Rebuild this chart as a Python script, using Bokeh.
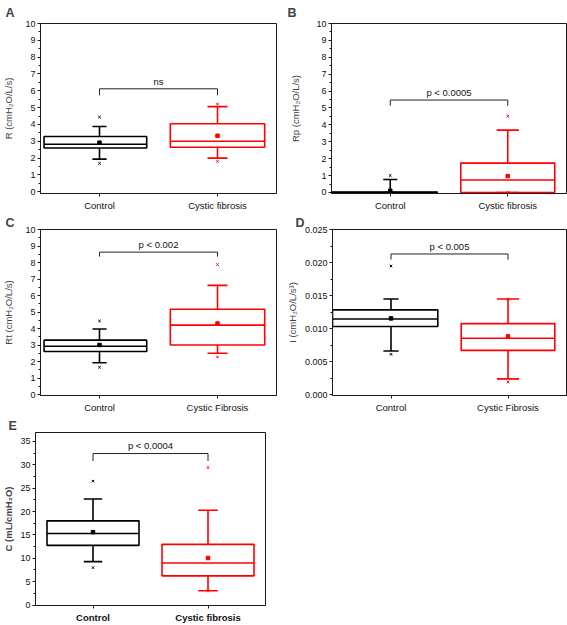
from bokeh.plotting import figure
from bokeh.layouts import column, row
from bokeh.models import FixedTicker, NumeralTickFormatter, Range1d
from bokeh.embed import file_html
from bokeh.resources import INLINE
from bokeh.core.properties import value

FONT = "Liberation Sans"
COLORS = ["#000000", "#ff0000"]

# ---------------- data ----------------
groups_ab = ["Control", "Cystic fibrosis"]
groups_cd = ["Control", "Cystic Fibrosis"]
groups_e = ["Control", "Cystic fibrosis"]

# A: R (cmH2O/L/s)
R_q1 = [2.60, 2.65]
R_median = [2.83, 3.00]
R_q3 = [3.29, 4.04]
R_wlo = [1.94, 2.00]
R_whi = [3.88, 5.06]
R_mean = [2.92, 3.33]
R_min = [1.69, 1.81]
R_max = [4.44, 5.21]
R_bracket = [5.73, 6.12]
R_text = "ns"

# B: Rp (cmH2O/L/s)
Rp_q1 = [0.00, 0.00]
Rp_median = [0.00, 0.74]
Rp_q3 = [0.03, 1.74]
Rp_wlo = [0.00, 0.00]
Rp_whi = [0.77, 3.69]
Rp_mean = [0.10, 0.97]
Rp_min = [0.00, 0.00]
Rp_max = [1.00, 4.51]
Rp_bracket = [5.13, 5.47]
Rp_text = "p < 0.0005"

# C: Rt (cmH2O/L/s)
Rt_q1 = [2.61, 3.01]
Rt_median = [2.93, 4.21]
Rt_q3 = [3.30, 5.17]
Rt_wlo = [1.93, 2.51]
Rt_whi = [3.98, 6.62]
Rt_mean = [3.01, 4.31]
Rt_min = [1.66, 2.28]
Rt_max = [4.46, 7.88]
Rt_bracket = [8.36, 8.63]
Rt_text = "p < 0.002"

# D: I (cmH2O/L/s^2)
I_q1 = [0.01033, 0.00672]
I_median = [0.01146, 0.00855]
I_q3 = [0.01285, 0.01077]
I_wlo = [0.00662, 0.00242]
I_whi = [0.01448, 0.01448]
I_mean = [0.01156, 0.00884]
I_min = [0.00613, 0.00193]
I_max = [0.01947, 0.01448]
I_bracket = [0.02045, 0.0213]
I_text = "p < 0.005"

# E: C (mL/cmH2O)
C_q1 = [12.76, 6.24]
C_median = [15.31, 9.00]
C_q3 = [18.00, 12.97]
C_wlo = [9.28, 3.05]
C_whi = [22.68, 20.27]
C_mean = [15.59, 10.06]
C_min = [8.00, 3.05]
C_max = [26.50, 29.40]
C_bracket = [30.8, 32.4]
C_text = "p < 0.0004"


def panel(letter, ylabel, xlabels, q1, med, q3, wlo, whi, mean, mn, mx,
          bracket, ptext, yr, yticks, yminor, fmt,
          w, h, bl, br, bt, bb, box_l, box_r, caps,
          bold=False, ylab_standoff=4, letter_x=5, letter_standoff=0,
          letter_lh=1.0):
    p = figure(width=w, height=h, x_range=Range1d(0.5, 2.5), y_range=Range1d(*yr),
               output_backend="svg", toolbar_location=None,
               min_border_left=bl, min_border_right=br,
               min_border_top=bt, min_border_bottom=bb)
    p.xgrid.visible = False
    p.ygrid.visible = False
    p.outline_line_color = "#1a1a1a"
    p.outline_line_width = 1
    p.outline_line_alpha = 1
    p.background_fill_color = "white"
    p.border_fill_color = "white"

    p.title.text = letter
    p.title.align = "left"
    p.title.offset = -(bl - letter_x)
    p.title.text_font = FONT
    p.title.text_font_size = "12.5px"
    p.title.text_font_style = "bold"
    p.title.standoff = letter_standoff
    p.title.text_line_height = letter_lh

    xs = [i + 1 for i in range(len(xlabels))]
    lefts = [x - box_l[i] for i, x in enumerate(xs)]
    rights = [x + box_r[i] for i, x in enumerate(xs)]
    cl = [x - caps[i] / 2 for i, x in enumerate(xs)]
    cr = [x + caps[i] / 2 for i, x in enumerate(xs)]

    lw = 1.6
    # whiskers
    p.segment(x0=xs, x1=xs, y0=q3, y1=whi, line_color=COLORS, line_width=lw)
    p.segment(x0=xs, x1=xs, y0=q1, y1=wlo, line_color=COLORS, line_width=lw)
    p.segment(x0=cl, x1=cr, y0=whi, y1=whi, line_color=COLORS, line_width=lw)
    p.segment(x0=cl, x1=cr, y0=wlo, y1=wlo, line_color=COLORS, line_width=lw)
    # boxes
    p.quad(left=lefts, right=rights, bottom=q1, top=q3, fill_color="white",
           fill_alpha=0, line_color=COLORS, line_width=lw)
    p.segment(x0=lefts, x1=rights, y0=med, y1=med, line_color=COLORS, line_width=lw)
    # mean and extremes
    p.scatter(x=xs, y=mean, marker="square", size=3.5, fill_color=COLORS,
              line_color=COLORS, line_width=1)
    p.scatter(x=xs, y=mn, marker="x", size=3.5, line_color=COLORS, line_width=1)
    p.scatter(x=xs, y=mx, marker="x", size=3.5, line_color=COLORS, line_width=1)

    # significance bracket
    p.line(x=[xs[0], xs[0], xs[1], xs[1]],
           y=[bracket[0], bracket[1], bracket[1], bracket[0]],
           line_color="#222222", line_width=1)
    yspan = yr[1] - yr[0]
    p.text(x=[(xs[0] + xs[1]) / 2], y=[bracket[1] + yspan * 0.012], text=[ptext],
           text_align="center", text_baseline="bottom",
           text_font=value(FONT), text_font_size="9.5px", text_color="#111111")

    # axes
    p.xaxis.ticker = FixedTicker(ticks=xs)
    p.xaxis.major_label_overrides = {x: lab for x, lab in zip(xs, xlabels)}
    p.yaxis.ticker = FixedTicker(ticks=yticks, minor_ticks=yminor)
    p.yaxis.formatter = NumeralTickFormatter(format=fmt)
    for ax in (p.xaxis[0], p.yaxis[0]):
        ax.axis_line_color = "#1a1a1a"
        ax.axis_line_width = 1
        ax.major_tick_line_color = "#1a1a1a"
        ax.minor_tick_line_color = "#1a1a1a"
        ax.major_tick_in = 0
        ax.major_tick_out = 3
        ax.minor_tick_in = 0
        ax.minor_tick_out = 2
        ax.major_label_text_font = FONT
        ax.major_label_text_font_size = "9px"
        ax.major_label_text_color = "#111111"
        ax.axis_label_text_font = FONT
        ax.axis_label_text_font_size = "9.5px"
        ax.axis_label_text_font_style = "bold" if bold else "normal"
    p.xaxis.minor_tick_line_color = None
    p.xaxis.major_label_standoff = 3
    p.xaxis.major_label_text_font_size = "9.5px"
    p.yaxis.major_label_standoff = 2
    p.yaxis.axis_label = ylabel
    p.yaxis.axis_label_standoff = ylab_standoff
    if bold:
        p.xaxis.major_label_text_font_style = "bold"
    return p


ticks10 = list(range(0, 11))
minor10 = [i * 0.5 for i in range(0, 21)]

pA = panel("A", "R (cmH\u2082O/L/s)", groups_ab, R_q1, R_median, R_q3, R_wlo, R_whi,
           R_mean, R_min, R_max, R_bracket, R_text, (-0.1, 10.0), ticks10, minor10, "0",
           w=283, h=213, bl=40, br=7, bt=21, bb=19,
           box_l=[0.47, 0.40], box_r=[0.40, 0.40], caps=[0.12, 0.17],
           ylab_standoff=8, letter_standoff=7)
pB = panel("B", "Rp (cmH\u2082O/L/s)", groups_ab, Rp_q1, Rp_median, Rp_q3, Rp_wlo, Rp_whi,
           Rp_mean, Rp_min, Rp_max, Rp_bracket, Rp_text, (-0.06, 10.0), ticks10, minor10, "0",
           w=284, h=213, bl=48, br=1, bt=21, bb=19,
           box_l=[0.50, 0.40], box_r=[0.40, 0.40], caps=[0.12, 0.19],
           ylab_standoff=12, letter_x=4, letter_standoff=7)
pC = panel("C", "Rt (cmH\u2082O/L/s)", groups_cd, Rt_q1, Rt_median, Rt_q3, Rt_wlo, Rt_whi,
           Rt_mean, Rt_min, Rt_max, Rt_bracket, Rt_text, (-0.05, 10.0), ticks10, minor10, "0",
           w=283, h=203, bl=40, br=7, bt=14, bb=17,
           box_l=[0.47, 0.40], box_r=[0.40, 0.40], caps=[0.12, 0.17],
           ylab_standoff=8, letter_lh=0.8)
pD = panel("D", "I (cmH\u2082O/L/s\u00b3)", groups_cd, I_q1, I_median, I_q3, I_wlo, I_whi,
           I_mean, I_min, I_max, I_bracket, I_text, (-0.0001, 0.025),
           [i * 0.005 for i in range(0, 6)], [i * 0.0025 for i in range(0, 11)], "0.000",
           w=284, h=203, bl=46, br=1, bt=14, bb=21,
           box_l=[0.50, 0.40], box_r=[0.40, 0.40], caps=[0.13, 0.19],
           ylab_standoff=4, letter_x=9, letter_lh=0.8)
pE = panel("E", "C (mL/cmH\u2082O)", groups_e, C_q1, C_median, C_q3, C_wlo, C_whi,
           C_mean, C_min, C_max, C_bracket, C_text, (-0.1, 36.9),
           list(range(0, 36, 5)), [i * 2.5 for i in range(0, 15)], "0",
           w=275, h=209, bl=31, br=10, bt=16, bb=20,
           box_l=[0.40, 0.40], box_r=[0.40, 0.40], caps=[0.16, 0.17], bold=True,
           ylab_standoff=3, letter_x=4, letter_lh=0.8)

layout = column(row(pA, pB), row(pC, pD), pE)
open("out.html", "w").write(file_html(layout, INLINE))
